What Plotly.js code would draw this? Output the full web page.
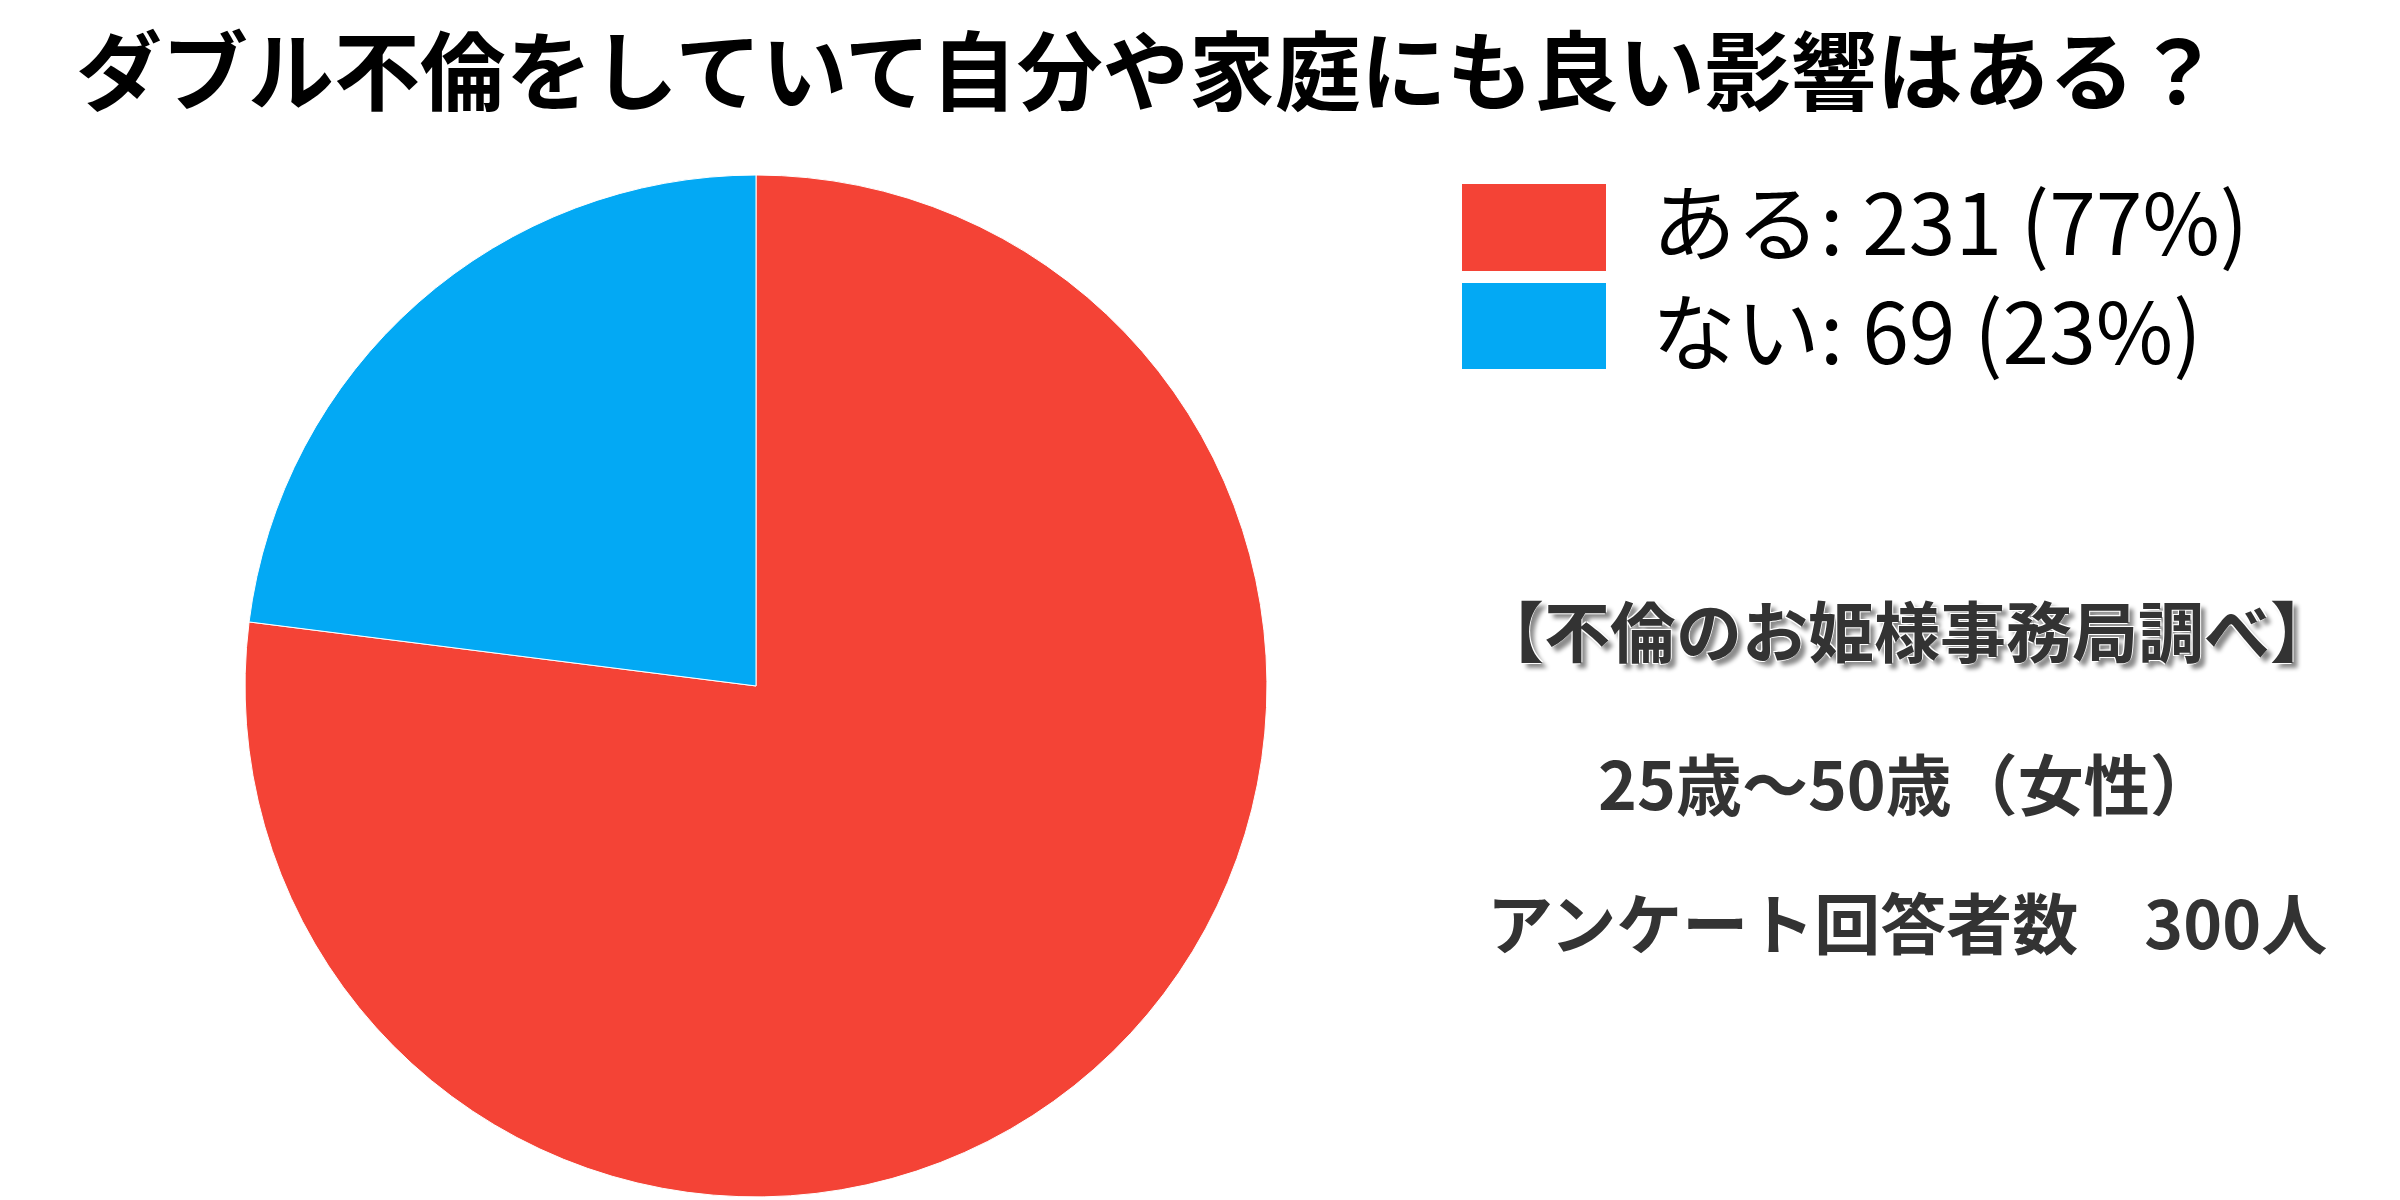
<!DOCTYPE html>
<html>
<head>
<meta charset="utf-8">
<script src="https://cdn.plot.ly/plotly-3.0.1.min.js"></script>
<style>
  body { margin: 0; background: #fff; }
  #chart { width: 2400px; height: 1200px; }
</style>
</head>
<body>
<div id="chart"></div>
<script>
var labels = ['ある', 'ない'];
var values = [231, 69];
var colors = ['#F44336', '#03A9F4'];

var title_text = 'ダブル不倫をしていて自分や家庭にも良い影響はある？';
var source_text = '【不倫のお姫様事務局調べ】';
var age_text = '25歳～50歳（女性）';
var count_text = 'アンケート回答者数　300人';

var total = values.reduce(function (a, b) { return a + b; }, 0);

var pie = {
  type: 'pie',
  labels: labels,
  values: values,
  sort: false,
  direction: 'clockwise',
  rotation: 0,
  textinfo: 'none',
  hoverinfo: 'skip',
  showlegend: false,
  marker: {
    colors: colors,
    line: {color: '#ffffff', width: 1}
  },
  domain: {x: [0.1021, 0.5279], y: [0.0025, 0.8542]}
};

// legend drawn by hand: big colour keys plus one two-line text block
var keyTops = [184, 283];
var keyBottoms = [271, 369];

var shapes = [];
var rows = [];
labels.forEach(function (lab, i) {
  shapes.push({
    type: 'rect', xref: 'paper', yref: 'paper',
    x0: 1462 / 2400, x1: 1606 / 2400,
    y0: 1 - keyBottoms[i] / 1200, y1: 1 - keyTops[i] / 1200,
    fillcolor: colors[i],
    line: {width: 0}
  });
  var pct = Math.round(values[i] / total * 100);
  rows.push(lab + ': ' + values[i] + ' (' + pct + '%)');
});

var annotations = [];
annotations.push({
  xref: 'paper', yref: 'paper',
  x: 1650 / 2400, y: 1 - 273 / 1200,
  xanchor: 'left', yanchor: 'middle', align: 'left',
  showarrow: false,
  text: rows.join('<br>'),
  font: {family: 'Noto Sans CJK JP', size: 84, color: '#000000'}
});

var noteFont = {family: 'Noto Sans CJK JP', size: 66, color: '#333333', weight: 700};

annotations.push({
  xref: 'paper', yref: 'paper', x: 1907 / 2400, y: 1 - 628 / 1200,
  xanchor: 'center', yanchor: 'middle', showarrow: false,
  text: source_text,
  font: {family: 'Noto Sans CJK JP', size: 66, color: '#333333', weight: 700,
         shadow: '-1px -1px 0 #fff, 1px -1px 0 #fff, -1px 1px 0 #fff, 5px 5px 4px #8a8a8a'}
});
annotations.push({
  xref: 'paper', yref: 'paper', x: 1907 / 2400, y: 1 - 781 / 1200,
  xanchor: 'center', yanchor: 'middle', showarrow: false,
  text: age_text, font: noteFont
});
annotations.push({
  xref: 'paper', yref: 'paper', x: 1907 / 2400, y: 1 - 920 / 1200,
  xanchor: 'center', yanchor: 'middle', showarrow: false,
  text: count_text, font: noteFont
});

var layout = {
  width: 2400,
  height: 1200,
  margin: {l: 0, r: 0, t: 0, b: 0, pad: 0},
  paper_bgcolor: '#ffffff',
  plot_bgcolor: '#ffffff',
  title: {
    text: title_text,
    x: 76 / 2400, xanchor: 'left', xref: 'container',
    y: 1 - 74 / 1200, yanchor: 'middle', yref: 'container',
    font: {family: 'Noto Sans CJK JP', size: 86, color: '#000000', weight: 700}
  },
  shapes: shapes,
  annotations: annotations,
  showlegend: false
};

Plotly.newPlot('chart', [pie], layout, {displayModeBar: false, staticPlot: true});
</script>
</body>
</html>
